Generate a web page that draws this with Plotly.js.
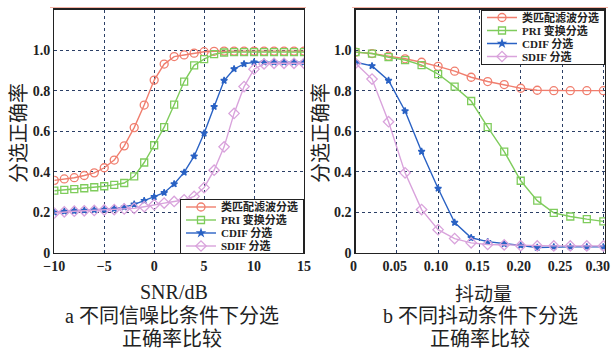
<!DOCTYPE html>
<html><head><meta charset="utf-8">
<script src="https://cdn.plot.ly/plotly-3.0.1.min.js"></script>
<style>html,body{margin:0;padding:0;background:#fff}#c{width:612px;height:353px}</style>
</head><body><div id="c"></div>
<script>
const snr = [-10,-9,-8,-7,-6,-5,-4,-3,-2,-1,0,1,2,3,4,5,6,7,8,9,10,11,12,13,14,15];
const snrMatched = [0.358,0.365,0.371,0.382,0.395,0.42,0.458,0.528,0.618,0.729,0.852,0.931,0.968,0.976,0.985,0.992,0.994,0.995,0.995,0.995,0.995,0.995,0.995,0.995,0.995,0.995];
const snrPRI = [0.307,0.311,0.315,0.319,0.324,0.329,0.336,0.345,0.378,0.446,0.531,0.62,0.731,0.845,0.925,0.955,0.98,0.988,0.99,0.99,0.99,0.99,0.99,0.99,0.99,0.99];
const snrCDIF = [0.2,0.205,0.208,0.21,0.212,0.214,0.218,0.226,0.24,0.258,0.277,0.297,0.34,0.397,0.477,0.59,0.721,0.85,0.907,0.932,0.94,0.94,0.94,0.94,0.94,0.94];
const snrSDIF = [0.197,0.203,0.206,0.208,0.21,0.212,0.214,0.217,0.22,0.228,0.238,0.246,0.254,0.262,0.279,0.322,0.408,0.523,0.688,0.82,0.906,0.932,0.935,0.935,0.935,0.935];

const jitter = [0,0.02,0.04,0.06,0.08,0.10,0.12,0.14,0.16,0.18,0.20,0.22,0.24,0.26,0.28,0.30];
const jitMatched = [0.99,0.983,0.97,0.957,0.94,0.92,0.896,0.866,0.845,0.83,0.812,0.802,0.8,0.8,0.8,0.8];
const jitPRI = [0.99,0.983,0.965,0.951,0.926,0.882,0.82,0.749,0.62,0.5,0.356,0.258,0.198,0.18,0.167,0.156];
const jitCDIF = [0.94,0.922,0.85,0.7,0.5,0.318,0.15,0.075,0.056,0.045,0.037,0.027,0.03,0.03,0.03,0.03];
const jitSDIF = [0.935,0.857,0.647,0.395,0.214,0.115,0.071,0.05,0.042,0.04,0.036,0.035,0.035,0.035,0.035,0.035];

const snrTicks = [-10,-5,0,5,10,15];
const jitTicks = [0,0.05,0.10,0.15,0.20,0.25,0.30];
const jitTickText = ['0','0.05','0.10','0.15','0.20','0.25','0.30<span style="color:rgba(0,0,0,0)">0</span>'];
const yTicks = [0,0.2,0.4,0.6,0.8,1.0];
const yTickText = ['0','0.2','0.4','0.6','0.8','1.0'];

const names = ['类匹配滤波分选','PRI 变换分选','CDIF 分选','SDIF 分选'];
const colors = ['#f07e6e','#7fcc5c','#2a62c4','#d9a3dc'];
const symbols = ['circle-open','square-open','star','diamond-open'];
const sizes = [8,7,5,8];

const FONT = 'Liberation Serif, Noto Sans CJK SC, serif';
const CJK = 'Noto Sans CJK SC, sans-serif';

function mk(x, y, i, xa, ya, lg) {
  return {x:x, y:y, type:'scatter', mode:'lines+markers', name:names[i],
    xaxis:xa, yaxis:ya, legend:lg,
    line:{color:colors[i], width:1.4},
    marker:{symbol:symbols[i], size:sizes[i], color:colors[i], line:{color:colors[i], width:1.3}}};
}

const data = [
  mk(snr, snrMatched, 0, 'x', 'y', 'legend'),
  mk(snr, snrPRI, 1, 'x', 'y', 'legend'),
  mk(snr, snrCDIF, 2, 'x', 'y', 'legend'),
  mk(snr, snrSDIF, 3, 'x', 'y', 'legend'),
  mk(jitter, jitMatched, 0, 'x2', 'y2', 'legend2'),
  mk(jitter, jitPRI, 1, 'x2', 'y2', 'legend2'),
  mk(jitter, jitCDIF, 2, 'x2', 'y2', 'legend2'),
  mk(jitter, jitSDIF, 3, 'x2', 'y2', 'legend2')
];

const PLOT_TOP = 9.5, PLOT_BOT = 253;
const yTop = (353-PLOT_TOP)/353, yBot = (353-PLOT_BOT)/353;
const axCommon = {showline:true, mirror:true, linecolor:'#222', linewidth:1.3,
  showgrid:true, gridcolor:'#2b3f66', griddash:'dot', gridwidth:1, zeroline:false,
  ticks:'', ticklabeloverflow:'allow',
  tickfont:{family:FONT, size:14, color:'#222', weight:'bold'}};

const legCommon = {bgcolor:'#fff', bordercolor:'#222', borderwidth:1,
  font:{family:FONT, size:11, color:'#222', weight:'bold'}, tracegroupgap:0,
  itemwidth:30};

function ann(text, x, y, size, fam, extra) {
  return Object.assign({text:text, xref:'paper', yref:'paper', x:x/612, y:(353-y)/353,
    xanchor:'center', yanchor:'middle', showarrow:false,
    font:{family:fam, size:size, color:'#222'}}, extra || {});
}

const layout = {
  width:612, height:353, margin:{l:0,r:0,t:0,b:0},
  paper_bgcolor:'#fff', plot_bgcolor:'#fff', showlegend:true,
  xaxis: Object.assign({}, axCommon, {domain:[54.3/612, 304/612], range:[-10,15],
    tickvals:snrTicks, anchor:'y'}),
  yaxis: Object.assign({}, axCommon, {domain:[yBot, yTop], range:[0,1.2],
    tickvals:yTicks, ticktext:yTickText, anchor:'x'}),
  xaxis2: Object.assign({}, axCommon, {domain:[355.5/612, 605/612], range:[0,0.302],
    tickvals:jitTicks, ticktext:jitTickText, ticklabelshift:-2, anchor:'y2'}),
  yaxis2: Object.assign({}, axCommon, {domain:[yBot, yTop], range:[0,1.2],
    tickvals:yTicks, ticktext:yTickText, anchor:'x2'}),
  legend: Object.assign({}, legCommon, {x:304/612, y:yBot, xanchor:'right', yanchor:'bottom', xref:'paper', yref:'paper'}),
  legend2: Object.assign({}, legCommon, {x:605/612, y:yTop, xanchor:'right', yanchor:'top', xref:'paper', yref:'paper'}),
  shapes: [
    {type:'line', xref:'paper', yref:'paper', x0:50/612, x1:306/612, y0:(353-7.5)/353, y1:(353-7.5)/353, line:{color:'#f6b4a6', width:1}},
    {type:'line', xref:'paper', yref:'paper', x0:352/612, x1:608/612, y0:(353-7.5)/353, y1:(353-7.5)/353, line:{color:'#f6b4a6', width:1}}
  ],
  annotations: [
    ann('分选正确率', 17, 133, 20, CJK, {textangle:-90}),
    ann('分选正确率', 319, 133, 20, CJK, {textangle:-90}),
    ann('SNR/dB', 174, 292, 20, FONT),
    ann('抖动量', 483, 292, 19, CJK),
    ann('a 不同信噪比条件下分选', 172, 316, 20, FONT),
    ann('正确率比较', 172, 339, 20, FONT),
    ann('b 不同抖动条件下分选', 480, 316, 20, FONT),
    ann('正确率比较', 480, 339, 20, FONT)
  ]
};

// Compact the legend rows (Plotly enforces a tall minimum row height).
function compactLegend(sel, anchorBottom) {
  const g = document.querySelector(sel);
  if (!g) return;
  const ROW = 13, FIRST = 8, H = FIRST + ROW * 3 + 7;
  const items = g.querySelectorAll('g.traces');
  items.forEach((t, i) => {
    const m = /translate\(\s*([-\d.e]+)[ ,]+([-\d.e]+)\s*\)/.exec(t.getAttribute('transform') || '');
    const x = m ? parseFloat(m[1]) : 0;
    t.setAttribute('transform', 'translate(' + x + ',' + (FIRST + ROW * i) + ')');
  });
  const bg = g.querySelector('rect.bg');
  if (bg) bg.setAttribute('height', H);
  const m = /translate\(\s*([-\d.e]+)[ ,]+([-\d.e]+)\s*\)/.exec(g.getAttribute('transform') || '');
  if (m) {
    const x = parseFloat(m[1]);
    const y = anchorBottom ? PLOT_BOT - H : PLOT_TOP;
    g.setAttribute('transform', 'translate(' + x + ',' + y + ')');
  }
}

Plotly.newPlot('c', data, layout, {displayModeBar:false, staticPlot:true}).then(() => {
  compactLegend('g.legend', true);
  compactLegend('g.legend2', false);
});
</script></body></html>
